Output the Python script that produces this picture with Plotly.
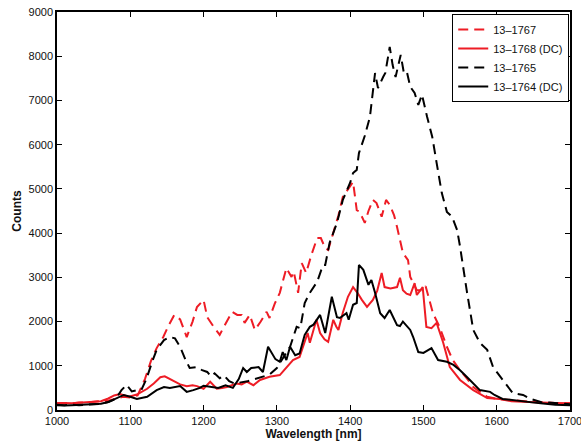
import plotly.graph_objects as go

# 13-1767 (red dashed)
wl_1767 = [1000, 1010, 1020, 1030, 1040, 1050, 1060, 1070, 1080, 1090, 1100, 1110, 1120, 1128, 1136, 1145, 1152, 1160, 1168, 1177, 1185, 1191, 1200, 1205, 1213, 1222, 1230, 1239, 1246, 1252, 1256, 1263, 1270, 1278, 1286, 1290, 1297, 1304, 1313, 1320, 1323, 1329, 1334, 1340, 1347, 1355, 1360, 1366, 1370, 1377, 1384, 1390, 1397, 1404, 1409, 1413, 1420, 1425, 1431, 1436, 1443, 1449, 1454, 1460, 1464, 1472, 1479, 1482, 1491, 1499, 1503, 1508, 1513, 1522, 1532, 1540, 1550, 1560, 1568, 1578, 1587, 1600, 1620, 1640, 1660, 1680, 1700]
counts_1767 = [150, 160, 150, 170, 170, 190, 200, 210, 250, 300, 280, 330, 700, 1100, 1400, 1650, 1900, 2150, 2050, 1650, 2000, 2330, 2490, 2100, 1900, 1700, 1950, 2220, 2150, 2150, 1970, 2150, 1810, 2000, 2220, 2080, 2400, 2650, 3210, 3010, 3130, 2650, 3320, 3100, 3500, 3890, 3890, 3660, 3620, 4000, 4400, 4820, 5000, 5160, 4520, 4480, 4230, 4500, 4750, 4680, 4370, 4750, 4640, 4400, 4140, 3550, 3390, 3010, 2710, 2710, 2800, 2500, 2190, 1880, 1430, 1130, 900, 700, 520, 400, 300, 250, 220, 190, 170, 160, 150]

# 13-1768 (DC) (red solid)
wl_1768 = [1000, 1010, 1020, 1030, 1040, 1050, 1060, 1070, 1078, 1086, 1098, 1109, 1123, 1132, 1141, 1147, 1154, 1161, 1168, 1177, 1185, 1191, 1200, 1209, 1218, 1225, 1232, 1245, 1252, 1259, 1268, 1277, 1290, 1304, 1313, 1322, 1331, 1337, 1342, 1345, 1354, 1359, 1365, 1370, 1377, 1381, 1384, 1390, 1397, 1404, 1410, 1416, 1423, 1431, 1437, 1443, 1447, 1455, 1464, 1468, 1472, 1477, 1482, 1488, 1491, 1499, 1504, 1511, 1518, 1527, 1536, 1550, 1560, 1568, 1587, 1604, 1620, 1640, 1660, 1680, 1700]
counts_1768 = [150, 160, 150, 160, 170, 180, 200, 260, 330, 360, 300, 350, 480, 600, 740, 760, 700, 640, 580, 540, 560, 540, 480, 640, 480, 500, 520, 600, 580, 640, 560, 680, 750, 790, 950, 1130, 1200, 1500, 1740, 1520, 2040, 1740, 1600, 1540, 2040, 1890, 1810, 2200, 2560, 2780, 2650, 2490, 2330, 2490, 2700, 3100, 2780, 2750, 2780, 2990, 2710, 2630, 2600, 2870, 2600, 2780, 1880, 1850, 1970, 1520, 970, 680, 550, 450, 270, 250, 200, 180, 170, 160, 150]

# 13-1765 (black dashed)
wl_1765 = [1000, 1010, 1020, 1030, 1040, 1050, 1060, 1070, 1080, 1088, 1095, 1102, 1109, 1115, 1122, 1130, 1136, 1146, 1154, 1161, 1168, 1175, 1181, 1191, 1198, 1205, 1210, 1215, 1222, 1228, 1235, 1242, 1250, 1260, 1270, 1280, 1290, 1300, 1310, 1318, 1327, 1332, 1338, 1345, 1355, 1363, 1366, 1372, 1382, 1390, 1400, 1404, 1409, 1412, 1420, 1427, 1434, 1438, 1445, 1448, 1454, 1458, 1462, 1469, 1473, 1477, 1482, 1488, 1493, 1498, 1505, 1512, 1518, 1525, 1532, 1539, 1546, 1550, 1559, 1568, 1577, 1587, 1595, 1608, 1622, 1636, 1645, 1660, 1680, 1700]
counts_1765 = [120, 110, 120, 110, 120, 130, 140, 180, 250, 450, 570, 420, 450, 450, 700, 1100, 1360, 1580, 1650, 1620, 1430, 1150, 950, 970, 900, 860, 760, 830, 720, 780, 650, 600, 620, 650, 700, 750, 800, 950, 1200, 1430, 1880, 1850, 2420, 2650, 2900, 3280, 3280, 3780, 4230, 4750, 5140, 5360, 5430, 5810, 6200, 6630, 7620, 7280, 7530, 7620, 8210, 7800, 7530, 8030, 7650, 7680, 7310, 7170, 6900, 7130, 6630, 6180, 5590, 4910, 4480, 4370, 4070, 3690, 2710, 1810, 1520, 1360, 970, 680, 380, 340, 260, 180, 150, 130]

# 13-1764 (DC) (black solid)
wl_1764 = [1000, 1010, 1020, 1030, 1040, 1050, 1060, 1070, 1080, 1091, 1100, 1109, 1123, 1136, 1146, 1154, 1168, 1177, 1186, 1195, 1200, 1210, 1220, 1230, 1240, 1248, 1254, 1259, 1265, 1275, 1281, 1288, 1293, 1298, 1304, 1308, 1313, 1318, 1325, 1331, 1338, 1345, 1350, 1359, 1366, 1375, 1382, 1386, 1395, 1398, 1404, 1409, 1412, 1418, 1425, 1429, 1434, 1441, 1447, 1454, 1464, 1468, 1472, 1482, 1486, 1493, 1500, 1511, 1520, 1532, 1541, 1550, 1559, 1568, 1577, 1591, 1597, 1608, 1632, 1660, 1680, 1700]
counts_1764 = [110, 100, 110, 120, 120, 130, 140, 180, 250, 340, 300, 250, 300, 450, 520, 500, 540, 410, 450, 500, 550, 520, 500, 560, 500, 700, 950, 860, 950, 970, 860, 1430, 1280, 1150, 1090, 1310, 1130, 1430, 1240, 1280, 1700, 1880, 1930, 2150, 1740, 2560, 2100, 2080, 2190, 2040, 2380, 2420, 3280, 3170, 2830, 2940, 2650, 2190, 2080, 2260, 1920, 1900, 2000, 1810, 1650, 1310, 1290, 1400, 1130, 1090, 1020, 900, 750, 600, 450, 410, 340, 250, 200, 150, 120, 110]

x_ticks = [1000, 1100, 1200, 1300, 1400, 1500, 1600, 1700]
y_ticks = [0, 1000, 2000, 3000, 4000, 5000, 6000, 7000, 8000, 9000]

RED = "#ee1c25"
BLACK = "#000000"
FONT = "Liberation Sans"

fig = go.Figure()
fig.add_trace(go.Scatter(x=wl_1767, y=counts_1767, mode="lines", name="13\u20131767",
                         line=dict(color=RED, width=2, dash="10px,6px")))
fig.add_trace(go.Scatter(x=wl_1768, y=counts_1768, mode="lines", name="13\u20131768 (DC)",
                         line=dict(color=RED, width=2)))
fig.add_trace(go.Scatter(x=wl_1765, y=counts_1765, mode="lines", name="13\u20131765",
                         line=dict(color=BLACK, width=2, dash="10px,6px")))
fig.add_trace(go.Scatter(x=wl_1764, y=counts_1764, mode="lines", name="13\u20131764 (DC)",
                         line=dict(color=BLACK, width=2)))

axis_common = dict(showgrid=False, zeroline=False, showline=True, linecolor="black",
                   linewidth=1.5, mirror="ticks", ticks="inside", ticklen=5,
                   tickcolor="black", automargin=False, ticklabeloverflow="allow",
                   tickfont=dict(family=FONT, size=11, color="#111"))

fig.update_layout(
    width=581, height=447,
    margin=dict(l=57, r=11, t=12, b=37, autoexpand=False),
    paper_bgcolor="white", plot_bgcolor="white",
    font=dict(family=FONT, size=11, color="#111"),
    xaxis=dict(range=[1000, 1700], tickvals=x_ticks,
               title=dict(text="<b>Wavelength [nm]</b>", font=dict(family=FONT, size=12), standoff=2),
               **axis_common),
    yaxis=dict(range=[0, 9000], tickvals=y_ticks,
               title=dict(text="<b>Counts</b>", font=dict(family=FONT, size=12), standoff=4),
               **axis_common),
    legend=dict(x=0.9985, y=0.995, xanchor="right", yanchor="top",
                bgcolor="white", bordercolor="black", borderwidth=1,
                font=dict(family=FONT, size=11, color="#111"),
                tracegroupgap=0, itemwidth=30),
    showlegend=True,
)

fig.write_html("out.html")
